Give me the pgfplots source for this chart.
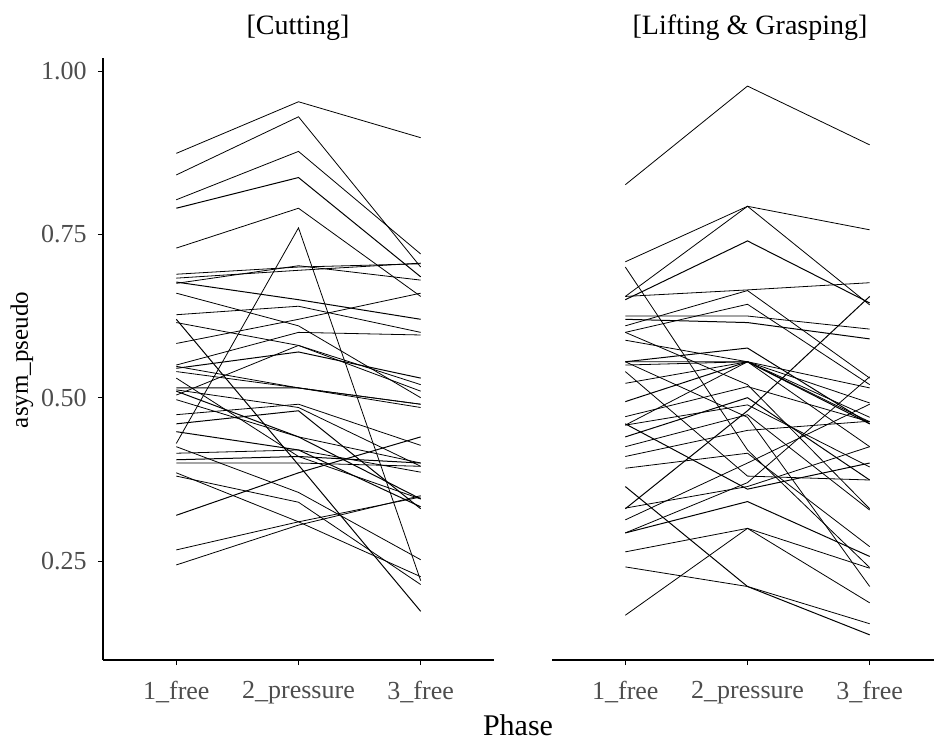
\documentclass[border=0pt]{standalone}
\usepackage{pgfplots}
\pgfplotsset{compat=1.18}
\usepackage{fontspec}
\setmainfont{Liberation Serif}
\definecolor{ticktxt}{RGB}{77,77,77}
\pgfplotsset{
  panel/.style={
    scale only axis, width=195.5pt, height=301pt, anchor=south west,
    xmin=0.4, xmax=3.6, ymin=0.0985, ymax=1.02,
    axis x line*=bottom,
    xtick={1,2,3}, xticklabels={1\_free,2\_pressure,3\_free},
    tick align=outside, major tick length=2.6pt,
    tick style={black, line width=0.5pt},
    axis line style={black, line width=0.65pt, -},
    ticklabel style={font=\fontsize{13}{14}\selectfont, text=ticktxt},
    /pgf/number format/assume math mode=true,
    xticklabel style={yshift=-4.5pt},
    yticklabel style={xshift=-2pt},
    cycle list={{black, solid, mark=none, line width=0.5pt}},
    clip=false,
  }
}
\begin{document}
\begin{tikzpicture}
\path[use as bounding box] (0,0) rectangle (467pt,370pt);
\begin{axis}[panel, at={(51.5pt,40pt)},
  axis y line*=left,
  ytick={0.25,0.5,0.75,1}, yticklabel style={/pgf/number format/.cd, fixed, fixed zerofill, precision=2},
]
\addplot coordinates {(1,0.874)(2,0.953)(3,0.898)};
\addplot coordinates {(1,0.841)(2,0.930)(3,0.700)};
\addplot coordinates {(1,0.803)(2,0.877)(3,0.720)};
\addplot coordinates {(1,0.790)(2,0.837)(3,0.685)};
\addplot coordinates {(1,0.729)(2,0.790)(3,0.655)};
\addplot coordinates {(1,0.689)(2,0.700)(3,0.705)};
\addplot coordinates {(1,0.683)(2,0.695)(3,0.706)};
\addplot coordinates {(1,0.677)(2,0.650)(3,0.620)};
\addplot coordinates {(1,0.675)(2,0.702)(3,0.680)};
\addplot coordinates {(1,0.660)(2,0.610)(3,0.500)};
\addplot coordinates {(1,0.627)(2,0.640)(3,0.600)};
\addplot coordinates {(1,0.620)(2,0.397)(3,0.173)};
\addplot coordinates {(1,0.615)(2,0.580)(3,0.520)};
\addplot coordinates {(1,0.583)(2,0.620)(3,0.660)};
\addplot coordinates {(1,0.548)(2,0.515)(3,0.485)};
\addplot coordinates {(1,0.545)(2,0.570)(3,0.530)};
\addplot coordinates {(1,0.540)(2,0.515)(3,0.490)};
\addplot coordinates {(1,0.515)(2,0.515)(3,0.490)};
\addplot coordinates {(1,0.512)(2,0.485)(3,0.395)};
\addplot coordinates {(1,0.510)(2,0.440)(3,0.345)};
\addplot coordinates {(1,0.504)(2,0.580)(3,0.510)};
\addplot coordinates {(1,0.497)(2,0.440)(3,0.400)};
\addplot coordinates {(1,0.474)(2,0.490)(3,0.427)};
\addplot coordinates {(1,0.448)(2,0.420)(3,0.333)};
\addplot coordinates {(1,0.430)(2,0.760)(3,0.220)};
\addplot coordinates {(1,0.425)(2,0.355)(3,0.252)};
\addplot coordinates {(1,0.415)(2,0.420)(3,0.386)};
\addplot coordinates {(1,0.405)(2,0.410)(3,0.400)};
\addplot coordinates {(1,0.400)(2,0.400)(3,0.395)};
\addplot coordinates {(1,0.385)(2,0.310)(3,0.226)};
\addplot coordinates {(1,0.380)(2,0.340)(3,0.214)};
\addplot coordinates {(1,0.320)(2,0.385)(3,0.440)};
\addplot coordinates {(1,0.267)(2,0.310)(3,0.348)};
\addplot coordinates {(1,0.244)(2,0.305)(3,0.350)};
\addplot coordinates {(1,0.550)(2,0.600)(3,0.596)};
\addplot coordinates {(1,0.460)(2,0.480)(3,0.330)};
\addplot coordinates {(1,0.530)(2,0.410)(3,0.345)};
\end{axis}
\begin{axis}[panel, at={(276pt,40pt)},
  axis y line=none, ytick=\empty,
]
\addplot coordinates {(1,0.826)(2,0.977)(3,0.887)};
\addplot coordinates {(1,0.708)(2,0.793)(3,0.757)};
\addplot coordinates {(1,0.655)(2,0.793)(3,0.642)};
\addplot coordinates {(1,0.650)(2,0.740)(3,0.645)};
\addplot coordinates {(1,0.655)(2,0.665)(3,0.676)};
\addplot coordinates {(1,0.700)(2,0.420)(3,0.240)};
\addplot coordinates {(1,0.625)(2,0.625)(3,0.605)};
\addplot coordinates {(1,0.620)(2,0.615)(3,0.590)};
\addplot coordinates {(1,0.610)(2,0.664)(3,0.530)};
\addplot coordinates {(1,0.600)(2,0.643)(3,0.520)};
\addplot coordinates {(1,0.588)(2,0.555)(3,0.470)};
\addplot coordinates {(1,0.555)(2,0.576)(3,0.460)};
\addplot coordinates {(1,0.555)(2,0.555)(3,0.515)};
\addplot coordinates {(1,0.550)(2,0.555)(3,0.492)};
\addplot coordinates {(1,0.522)(2,0.555)(3,0.463)};
\addplot coordinates {(1,0.494)(2,0.555)(3,0.460)};
\addplot coordinates {(1,0.471)(2,0.517)(3,0.463)};
\addplot coordinates {(1,0.458)(2,0.555)(3,0.425)};
\addplot coordinates {(1,0.458)(2,0.489)(3,0.394)};
\addplot coordinates {(1,0.440)(2,0.500)(3,0.374)};
\addplot coordinates {(1,0.425)(2,0.474)(3,0.328)};
\addplot coordinates {(1,0.410)(2,0.450)(3,0.464)};
\addplot coordinates {(1,0.392)(2,0.415)(3,0.272)};
\addplot coordinates {(1,0.330)(2,0.480)(3,0.655)};
\addplot coordinates {(1,0.331)(2,0.364)(3,0.425)};
\addplot coordinates {(1,0.313)(2,0.400)(3,0.490)};
\addplot coordinates {(1,0.293)(2,0.370)(3,0.532)};
\addplot coordinates {(1,0.293)(2,0.341)(3,0.257)};
\addplot coordinates {(1,0.264)(2,0.300)(3,0.239)};
\addplot coordinates {(1,0.241)(2,0.211)(3,0.154)};
\addplot coordinates {(1,0.167)(2,0.300)(3,0.186)};
\addplot coordinates {(1,0.364)(2,0.211)(3,0.137)};
\addplot coordinates {(1,0.555)(2,0.470)(3,0.211)};
\addplot coordinates {(1,0.600)(2,0.520)(3,0.330)};
\addplot coordinates {(1,0.540)(2,0.380)(3,0.374)};
\addplot coordinates {(1,0.460)(2,0.360)(3,0.400)};
\end{axis}
\node[font=\fontsize{14}{15}\selectfont] at (149pt,356pt) {[Cutting]};
\node[font=\fontsize{14}{15}\selectfont] at (375pt,356pt) {[Lifting \& Grasping]};
\node[font=\fontsize{15}{16}\selectfont] at (259pt,7.5pt) {Phase};
\node[font=\fontsize{12.5}{14}\selectfont, rotate=90] at (11pt,190pt) {asym\_pseudo};
\end{tikzpicture}
\end{document}
